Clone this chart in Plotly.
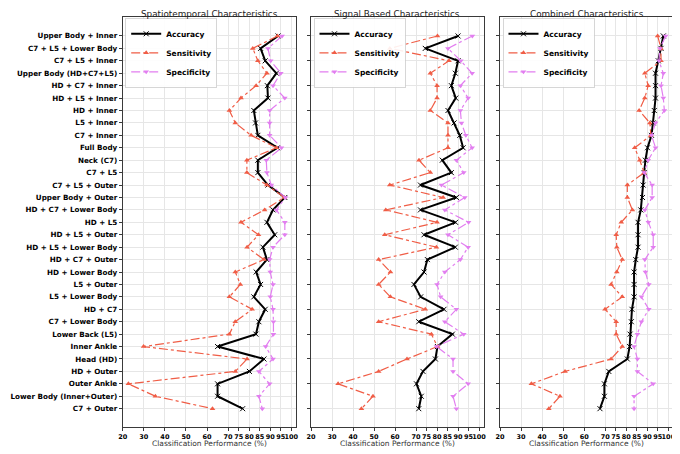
import plotly.graph_objects as go

LOCATIONS = [
    "Upper Body + Inner", "C7 + L5 + Lower Body", "C7 + L5 + Inner",
    "Upper Body (HD+C7+L5)", "HD + C7 + Inner", "HD + L5 + Inner",
    "HD + Inner", "L5 + Inner", "C7 + Inner", "Full Body", "Neck (C7)",
    "C7 + L5", "C7 + L5 + Outer", "Upper Body + Outer",
    "HD + C7 + Lower Body", "HD + L5", "HD + L5 + Outer",
    "HD + L5 + Lower Body", "HD + C7 + Outer", "HD + Lower Body",
    "L5 + Outer", "L5 + Lower Body", "HD + C7", "C7 + Lower Body",
    "Lower Back (L5)", "Inner Ankle", "Head (HD)", "HD + Outer",
    "Outer Ankle", "Lower Body (Inner+Outer)", "C7 + Outer",
]

PANEL_TITLES = [
    "Spatiotemporal Characteristics",
    "Signal Based Characteristics",
    "Combined Characteristics",
]

SPATIO_ACC = [93.7, 85.4, 87.6, 92.9, 88.6, 88.9, 82.2, 83.0, 84.1, 93.4, 84.1,
              84.1, 88.9, 96.9, 91.3, 88.4, 92.1, 86.5, 88.4, 83.3, 85.4, 82.2,
              87.6, 84.6, 83.2, 65.0, 87.0, 80.1, 65.0, 65.0, 76.9]
SPATIO_SENS = [93.4, 81.7, 84.1, 88.4, 83.3, 76.1, 70.6, 73.4, 80.9, 92.9, 78.9,
               78.9, 88.4, 96.6, 87.3, 76.1, 84.4, 79.0, 87.0, 73.4, 75.8, 70.6,
               81.4, 73.4, 70.6, 29.9, 79.0, 73.4, 22.7, 35.5, 62.6]
SPATIO_SPEC = [95.6, 88.9, 90.2, 95.0, 91.3, 96.9, 89.7, 89.7, 89.7, 95.3, 88.1,
               88.4, 90.5, 97.2, 92.9, 96.9, 96.9, 91.3, 89.7, 90.0, 91.3, 90.0,
               91.3, 91.5, 91.5, 87.8, 91.3, 84.6, 89.7, 84.6, 86.2]

SIGNAL_ACC = [90.0, 74.4, 90.0, 88.7, 86.8, 88.9, 85.2, 88.1, 90.8, 92.4, 82.5,
              86.8, 72.1, 89.2, 72.1, 88.8, 73.8, 88.7, 75.4, 73.8, 69.0, 72.2,
              83.3, 71.3, 87.3, 80.2, 79.2, 73.3, 70.2, 72.5, 71.3]
SIGNAL_SENS = [80.2, 57.5, 85.7, 76.8, 80.0, 80.0, 76.8, 85.2, 85.2, 85.2, 71.4,
               76.8, 57.5, 82.9, 55.6, 80.0, 55.1, 79.7, 52.2, 57.8, 52.2, 57.8,
               74.4, 52.2, 77.3, 80.2, 65.7, 52.2, 32.9, 49.5, 44.0]
SIGNAL_SPEC = [96.8, 85.2, 91.3, 96.7, 91.1, 94.8, 91.1, 91.6, 93.7, 96.7, 89.2,
               92.7, 82.1, 93.2, 83.7, 95.0, 85.2, 94.8, 91.1, 83.7, 80.0, 81.7,
               89.2, 83.7, 92.7, 79.7, 87.6, 87.6, 94.8, 87.6, 89.2]

COMBINED_ACC = [97.6, 96.5, 95.2, 93.9, 93.9, 93.9, 93.3, 92.8, 92.0, 90.1, 89.1,
                88.5, 88.0, 87.7, 86.9, 85.6, 85.6, 85.6, 84.5, 83.7, 83.7, 83.7,
                82.7, 82.4, 81.8, 81.6, 80.5, 71.7, 69.6, 69.6, 67.5]
COMBINED_SENS = [94.9, 96.5, 96.5, 88.8, 90.4, 88.8, 86.1, 91.2, 91.7, 84.0, 86.4,
                 88.5, 80.5, 80.5, 82.9, 77.6, 75.2, 75.5, 78.1, 75.5, 72.8, 78.1,
                 69.9, 75.2, 75.2, 78.1, 72.8, 50.9, 34.9, 48.5, 43.2]
COMBINED_SPEC = [98.7, 96.0, 95.5, 97.6, 96.5, 97.6, 98.1, 93.9, 92.0, 93.9, 90.4,
                 88.5, 92.3, 92.3, 88.8, 90.5, 92.8, 92.8, 88.8, 89.1, 90.7, 87.2,
                 90.7, 87.2, 85.3, 83.7, 85.3, 85.3, 92.8, 83.7, 83.7]

X_TICKS = [20, 30, 40, 50, 60, 70, 75, 80, 85, 90, 95, 100]

PANELS = [
    (SPATIO_ACC, SPATIO_SENS, SPATIO_SPEC),
    (SIGNAL_ACC, SIGNAL_SENS, SIGNAL_SPEC),
    (COMBINED_ACC, COMBINED_SENS, COMBINED_SPEC),
]

# the page body adds an 8px margin, so the figure is drawn 8px in from the corner
PAD = 8
W, H = 680 - PAD, 454 - PAD
FONT = "DejaVu Sans"
SENS_COLOR = "#f05d46"
SPEC_COLOR = "#e27ef0"
GRID = "#e6e6e6"
EDGE = "#3a3a3a"


def px_x(p):
    return (p - PAD) / W


def px_y(p):
    return 1 - (p - PAD) / H


# panel placement in window pixels (left, right), shared top/bottom
PANEL_X = [(122.7, 296.0), (311.0, 483.7), (500.0, 673.0)]
TOP_PX, BOTTOM_PX = 16.7, 426.7
Y_DOMAIN = [px_y(BOTTOM_PX), px_y(TOP_PX)]

fig = go.Figure()
layout = {}
annotations = []

for i, (acc, sens, spec) in enumerate(PANELS):
    n = "" if i == 0 else str(i + 1)
    xa, ya = f"x{n}", f"y{n}"
    leg = f"legend{n}"
    series = [
        ("Accuracy", acc, dict(color="black", width=2, dash="solid"),
         dict(symbol="x-thin", size=5, line=dict(color="black", width=1))),
        ("Sensitivity", sens, dict(color=SENS_COLOR, width=1.2, dash="dashdot"),
         dict(symbol="triangle-up", size=5, color=SENS_COLOR)),
        ("Specificity", spec, dict(color=SPEC_COLOR, width=1.2, dash="dashdot"),
         dict(symbol="triangle-down", size=5, color=SPEC_COLOR)),
    ]
    for name, vals, line, marker in series:
        fig.add_trace(go.Scatter(
            x=vals, y=LOCATIONS, name=name, mode="lines+markers",
            line=line, marker=marker, xaxis=xa, yaxis=ya, legend=leg,
        ))

    x0, x1 = PANEL_X[i]
    layout[f"xaxis{n}"] = dict(
        domain=[px_x(x0), px_x(x1)], anchor=ya, range=[20, 102.2],
        tickvals=X_TICKS, ticks="outside", ticklen=3, tickcolor=EDGE,
        tickangle=0,
        tickfont=dict(family=FONT, size=6.5, color="black", weight="bold"),
        showgrid=True, gridcolor=GRID, gridwidth=0.8,
        showline=True, linecolor=EDGE, linewidth=1, mirror=True,
        zeroline=False, automargin=False,
    )
    layout[f"yaxis{n}"] = dict(
        domain=Y_DOMAIN, anchor=xa, type="category",
        categoryorder="array", categoryarray=LOCATIONS,
        range=[len(LOCATIONS) + 0.45, -1.55],
        showticklabels=(i == 0), ticks="outside", ticklen=3, tickcolor=EDGE,
        tickfont=dict(family=FONT, size=7.2, color="black", weight="bold"),
        showgrid=True, gridcolor=GRID, gridwidth=0.8,
        showline=True, linecolor=EDGE, linewidth=1, mirror=True,
        zeroline=False, automargin=False,
    )
    layout[leg] = dict(
        x=px_x(x0) + 0.004, y=Y_DOMAIN[1] - 0.004, xanchor="left", yanchor="top",
        bgcolor="rgba(255,255,255,0.9)", bordercolor="#cccccc", borderwidth=0.8,
        font=dict(family=FONT, size=7.5, color="black", weight="bold"),
        tracegroupgap=0, itemwidth=30,
    )
    annotations.append(dict(
        text=PANEL_TITLES[i], x=px_x((x0 + x1) / 2), y=px_y(13.8),
        xref="paper", yref="paper", showarrow=False,
        xanchor="center", yanchor="middle", borderpad=0,
        font=dict(family=FONT, size=8.8, color="#222222"),
    ))
    annotations.append(dict(
        text="Classification Performance (%)", x=px_x((x0 + x1) / 2), y=px_y(443),
        xref="paper", yref="paper", showarrow=False,
        xanchor="center", yanchor="middle",
        font=dict(family=FONT, size=7.5, color="#333333"),
    ))

fig.update_layout(
    width=W, height=H, template="none",
    paper_bgcolor="white", plot_bgcolor="white",
    margin=dict(l=0, r=0, t=0, b=0),
    font=dict(family=FONT, color="black"),
    annotations=annotations,
    **layout,
)

fig.write_html("out.html")
